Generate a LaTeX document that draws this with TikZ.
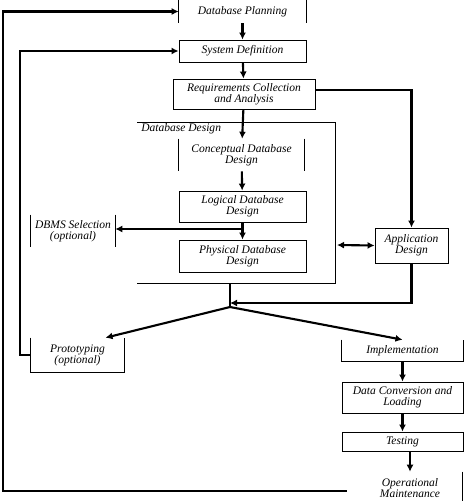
\documentclass[tikz,border=0pt]{standalone}
\usepackage{fontspec}
\setmainfont{Liberation Serif}
\usepackage{tikz}
\usetikzlibrary{positioning,arrows.meta}
\tikzstyle{blk}=[draw, line width=0.6pt, inner sep=0pt, align=center, font=\fontsize{8.2}{7.8}\selectfont\itshape]
\tikzstyle{opn}=[inner sep=0pt, align=center, font=\fontsize{8.2}{7.8}\selectfont\itshape]

\begin{document}
\begin{tikzpicture}[x=0.025cm,y=-0.025cm,>={Latex[length=5pt,width=5pt]}]
\useasboundingbox (0,0) rectangle (469,501);

\node[opn, minimum width=3.175cm, minimum height=0.575cm] at (242.5,11.5) (plan) {Database Planning};
\draw[line width=0.6pt] (plan.north west) -- (plan.south west) (plan.north east) -- (plan.south east);

\node[blk, minimum width=3.175cm, minimum height=0.55cm] at (242.5,51) (sysdef) {System Definition};
\draw[->,line width = 1.5pt] (plan) -- (sysdef);

\node[blk, minimum width=3.55cm, minimum height=0.75cm] at (244,94) (req) {Requirements Collection\\and Analysis};
\draw[->,line width = 1.5pt] (sysdef) -- (req);

% database design frame
\draw[line width=0.6pt] (137,122) -- (335,122) -- (335,283) -- (137,283);
\node[opn, anchor=north west] at (141,123) (ddlabel) {Database Design};
\coordinate (ddright) at (337,245);
\coordinate (ddbot) at (230,283);

\node[opn, minimum width=3.125cm, minimum height=0.8cm] at (241.5,155) (concept) {Conceptual Database\\Design};
\draw[line width=0.6pt] (concept.north west) -- (concept.south west) (concept.north east) -- (concept.south east);
\draw[->,line width = 1.5pt] (req) -- (concept);

\node[blk, minimum width=3.175cm, minimum height=0.775cm] at (242.5,206.5) (logical) {Logical Database\\Design};
\draw[->,line width = 1.5pt] (concept) -- (logical);

\node[blk, minimum width=3.175cm, minimum height=0.8cm] at (242.5,256) (physical) {Physical Database\\Design};
\draw[->,line width = 1.5pt] (logical) -- (physical);

\node[opn, minimum width=2.1cm, minimum height=0.8cm] at (73,231) (dbms) {DBMS Selection\\(optional)};
\draw[line width=0.6pt] (dbms.north west) -- (dbms.south west) (dbms.north east) -- (dbms.south east);
\coordinate (branch) at (242.5,229);
\draw[->,line width = 1.5pt] (branch) -- (dbms.east |- branch);

\node[blk, minimum width=1.825cm, minimum height=0.875cm] at (411.5,245.5) (app) {Application\\Design};
\draw[->,line width = 1.5pt] ([yshift=0.1cm]req.east) -| (app);
\draw[<->,line width = 1.5pt] (ddright) -- (app.west);

\coordinate (join) at (230,303);
\coordinate (split) at (230,307);
\draw[->,line width = 1.5pt] (app) |- (join);
\draw[line width = 1.5pt] (ddbot) -- (split);

\node[opn, minimum width=2.325cm, minimum height=0.85cm] at (77.5,355) (proto) {Prototyping\\(optional)};
\draw[line width=0.6pt] (proto.north west) -- (proto.south west) -- (proto.south east) -- (proto.north east);
\draw[->,line width = 1.5pt] (split) -- ([xshift=0.7cm]proto.north);

\node[opn, minimum width=3.025cm, minimum height=0.525cm] at (402.5,350.5) (impl) {Implementation};
\draw[line width=0.6pt] (impl.north west) -- (impl.south west) -- (impl.south east) -- (impl.north east);
\draw[->,line width = 1.5pt] (split) -- (impl.north);

\node[blk, minimum width=3.025cm, minimum height=0.775cm] at (402.5,397.5) (conv) {Data Conversion and\\Loading};
\draw[->,line width = 1.5pt] (impl) -- (conv);

\node[blk, minimum width=3.025cm, minimum height=0.475cm] at (402.5,441.5) (test) {Testing};
\draw[->,line width = 1.5pt] (conv.south -| test) -- (test);

\node[opn, minimum width=2.6cm, minimum height=0.8cm] at (410,488) (oper) {Operational\\Maintenance};
\draw[line width=0.6pt] (oper.north east) -- (oper.south east);
\draw[->,line width = 1.5pt] (test.south -| oper) -- (oper);

% feedback loops
\coordinate (outer) at (3,0);
\coordinate (inner) at (20,0);
\draw[->,line width = 1.5pt] ([xshift=-0.275cm,yshift=-0.075cm]oper.west) -| (outer |- plan.west) -- (plan.west);
\draw[->,line width = 1.5pt] (proto.west) -| (inner |- sysdef.west) -- (sysdef.west);
\end{tikzpicture}
\end{document}
